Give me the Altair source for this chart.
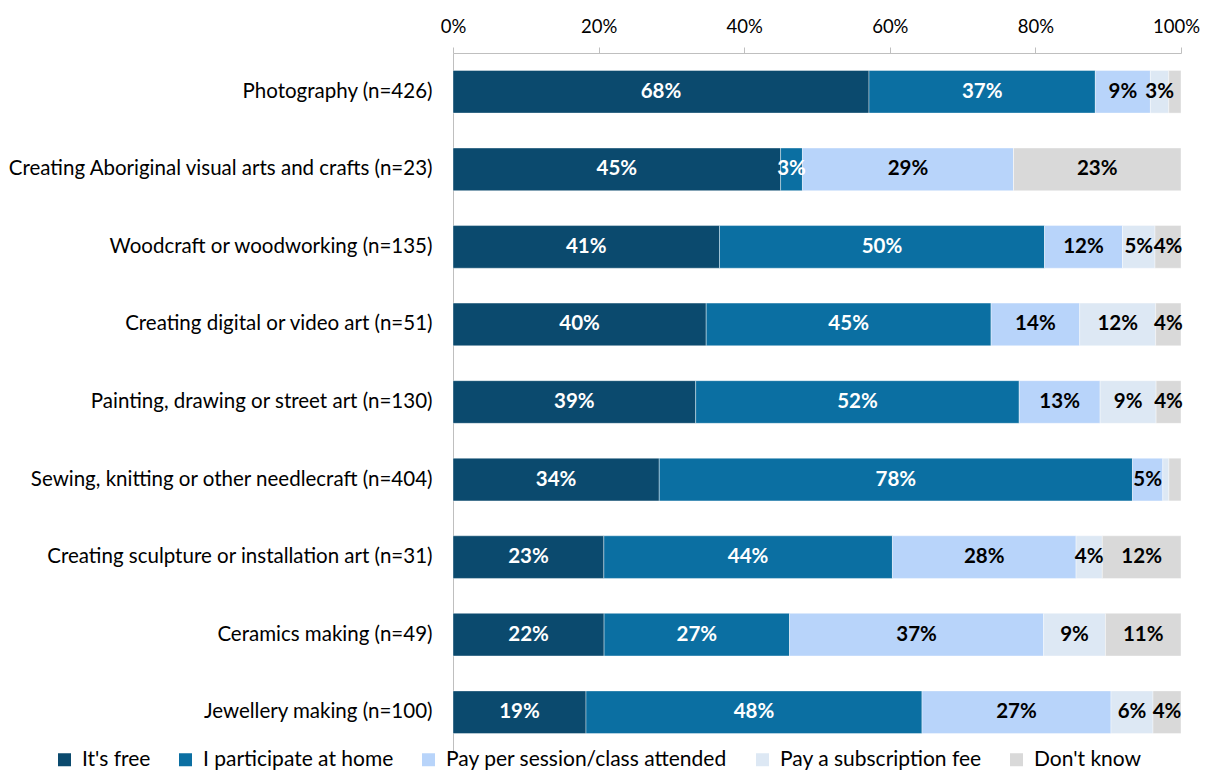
import altair as alt
import pandas as pd

categories = [
    "Photography (n=426)",
    "Creating Aboriginal visual arts and crafts (n=23)",
    "Woodcraft or woodworking (n=135)",
    "Creating digital or video art (n=51)",
    "Painting, drawing or street art (n=130)",
    "Sewing, knitting or other needlecraft (n=404)",
    "Creating sculpture or installation art (n=31)",
    "Ceramics making (n=49)",
    "Jewellery making (n=100)",
]
series = ["It's free", "I participate at home", "Pay per session/class attended",
          "Pay a subscription fee", "Don't know"]
its_free = [68, 45, 41, 40, 39, 34, 23, 22, 19]
at_home = [37, 3, 50, 45, 52, 78, 44, 27, 48]
pay_session = [9, 29, 12, 14, 13, 5, 28, 37, 27]
subscription = [3, 0, 5, 12, 9, 1, 4, 9, 6]
dont_know = [2, 23, 4, 4, 4, 2, 12, 11, 4]
colors = ["#0b4a6e", "#0b6fa2", "#b8d4fa", "#dde8f4", "#d9d9d9"]

values = [its_free, at_home, pay_session, subscription, dont_know]
rows = []
for si, s in enumerate(series):
    for ci, c in enumerate(categories):
        rows.append({"category": c, "series": s, "order": si, "value": values[si][ci]})
df = pd.DataFrame(rows)

FONT = "Lato"

base = alt.Chart(df).transform_joinaggregate(
    total="sum(value)", groupby=["category"]
).transform_calculate(
    share="datum.value / datum.total"
).transform_window(
    cum="sum(share)", groupby=["category"], sort=[alt.SortField("order")],
    frame=[None, 0]
).transform_calculate(
    start="datum.cum - datum.share",
    mid="datum.cum - datum.share / 2",
    label="datum.value + '%'"
)

y_enc = alt.Y("category:N", sort=categories, title=None,
              scale=alt.Scale(paddingInner=0.45, paddingOuter=0.225),
              axis=alt.Axis(ticks=False, labelPadding=21, labelFontSize=20.5,
                            labelFont=FONT, labelColor="#000000", labelLimit=600,
                            domainColor="#bfbfbf"))

bars = base.mark_bar(stroke="white", strokeWidth=0.4).encode(
    x=alt.X("start:Q", title=None,
            scale=alt.Scale(domain=[0, 1], nice=False),
            axis=alt.Axis(orient="top", format="%", values=[0, 0.2, 0.4, 0.6, 0.8, 1.0],
                          grid=False, labelFontSize=18.5, labelFont=FONT,
                          labelColor="#000000", labelFlush=False, tickSize=6,
                          tickColor="#bfbfbf", domainColor="#bfbfbf",
                          labelOffset={"condition": {"test": "datum.value >= 1", "value": -5},
                                       "value": 0},
                          labelPadding=11)),
    x2="cum:Q",
    y=y_enc,
    color=alt.Color("series:N", sort=series,
                    scale=alt.Scale(domain=series, range=colors),
                    legend=alt.Legend(title=None, orient="none", direction="horizontal",
                                      legendX=-399, legendY=696,
                                      symbolType="square", symbolSize=169,
                                      symbolStrokeWidth=0, labelOffset=7,
                                      labelFontSize=21, labelFont=FONT,
                                      labelColor="#000000", columnPadding=24,
                                      labelLimit=400)),
)

labels = base.transform_filter("datum.value >= 3").mark_text(
    fontSize=20.5, fontWeight="bold", font=FONT, baseline="middle", align="center"
).encode(
    x="mid:Q",
    y=alt.Y("category:N", sort=categories),
    text="label:N",
    color=alt.condition("datum.order < 2", alt.value("white"), alt.value("black")),
)

chart = alt.layer(bars, labels).properties(
    width=728, height=698,
    padding={"left": 445, "top": 45, "right": 22, "bottom": 22},
    autosize=alt.AutoSizeParams(type="none"),
).configure_view(stroke=None)

chart.save("out.html", embed_options={"renderer": "svg", "actions": False})
